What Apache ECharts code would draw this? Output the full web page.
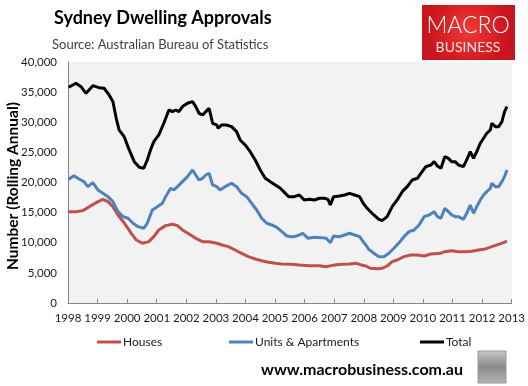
<!DOCTYPE html>
<html>
<head>
<meta charset="utf-8">
<script src="https://cdn.jsdelivr.net/npm/echarts@6/dist/echarts.min.js"></script>
<style>
html,body{margin:0;padding:0;background:#fff;}
#c{width:528px;height:386px;}
</style>
</head>
<body>
<div id="c"></div>
<script>
// Decimal-year positions and values (rolling annual approvals)
const totalX = [1998.02,1998.27,1998.44,1998.61,1998.84,1999.05,1999.22,1999.39,1999.52,1999.63,1999.73,1999.90,2000.07,2000.24,2000.41,2000.56,2000.68,2000.79,2000.90,2001.07,2001.24,2001.41,2001.53,2001.64,2001.75,2001.87,2002.04,2002.21,2002.32,2002.43,2002.55,2002.66,2002.77,2002.89,2003.03,2003.08,2003.19,2003.36,2003.53,2003.70,2003.82,2003.99,2004.16,2004.33,2004.50,2004.67,2004.84,2005.01,2005.18,2005.35,2005.46,2005.65,2005.82,2005.99,2006.16,2006.33,2006.50,2006.67,2006.79,2006.87,2006.98,2007.18,2007.35,2007.52,2007.69,2007.86,2007.98,2008.07,2008.17,2008.34,2008.51,2008.62,2008.79,2008.96,2009.13,2009.30,2009.47,2009.64,2009.81,2009.93,2010.10,2010.27,2010.38,2010.49,2010.61,2010.74,2010.86,2010.97,2011.09,2011.20,2011.37,2011.48,2011.60,2011.71,2011.82,2011.94,2012.05,2012.16,2012.28,2012.33,2012.45,2012.56,2012.67,2012.76,2012.84];
const totalY = [35800,36470,35900,34800,36070,35740,35640,34530,33400,30660,28700,27600,25400,23460,22530,22360,23740,25400,26780,27890,29830,32040,31760,32040,31760,32600,33150,33420,32600,31490,31210,31760,32320,29830,29550,29000,29550,29550,29270,28440,27060,26230,25120,23740,22080,20700,20140,19590,19040,18200,17650,17650,17930,17100,17210,17100,17380,17380,17200,16270,17650,17760,17930,18200,17930,17650,16550,15990,15440,14610,13890,13670,14330,15990,17100,18480,19310,20420,20700,21530,22630,22910,23460,22740,22360,24290,24010,23460,23460,22910,22630,23740,25120,24010,25120,26510,27340,28170,28720,29830,29270,29270,30100,31760,32600];

const unitsX = [1998.02,1998.20,1998.37,1998.54,1998.67,1998.84,1999.01,1999.18,1999.35,1999.52,1999.69,1999.86,2000.03,2000.20,2000.37,2000.56,2000.68,2000.85,2001.02,2001.19,2001.30,2001.47,2001.58,2001.70,2001.87,2002.04,2002.21,2002.32,2002.43,2002.55,2002.66,2002.77,2002.89,2003.03,2003.14,2003.31,2003.53,2003.70,2003.87,2004.04,2004.21,2004.38,2004.55,2004.72,2004.89,2005.06,2005.23,2005.40,2005.55,2005.65,2005.82,2005.94,2006.11,2006.33,2006.56,2006.73,2006.87,2006.98,2007.18,2007.35,2007.52,2007.69,2007.86,2007.98,2008.07,2008.17,2008.34,2008.51,2008.68,2008.85,2009.02,2009.19,2009.36,2009.53,2009.70,2009.87,2010.04,2010.21,2010.38,2010.49,2010.61,2010.74,2010.86,2010.97,2011.09,2011.20,2011.37,2011.48,2011.60,2011.71,2011.82,2011.94,2012.05,2012.16,2012.28,2012.33,2012.45,2012.56,2012.67,2012.76,2012.84];
const unitsY = [20530,21130,20580,20140,19310,19970,18760,18200,17650,16820,15160,14330,14060,13230,12670,12400,13230,15440,15990,16550,17650,19040,18760,19310,20140,20970,22080,21250,20420,20700,21250,21530,19590,19310,18760,19310,19870,19310,18200,17650,16550,15440,14060,13230,12950,12570,11840,11120,11010,11010,11290,11570,10740,10900,10850,10740,10010,11120,11010,11290,11570,11290,11010,10180,9630,8910,8250,7690,7690,8250,9080,10010,11010,11840,12120,12950,14330,14610,15160,14330,14060,15720,15160,14610,14330,14330,13890,14890,16270,14890,15990,17100,17930,18480,19040,19870,19310,19310,20140,20970,22080];

const housesX = [1998.02,1998.27,1998.50,1998.72,1998.95,1999.18,1999.35,1999.52,1999.69,1999.91,2000.14,2000.31,2000.52,2000.56,2000.73,2000.90,2001.07,2001.30,2001.53,2001.70,2001.87,2002.09,2002.32,2002.55,2002.77,2003.03,2003.21,2003.42,2003.65,2003.87,2004.10,2004.33,2004.55,2004.78,2005.01,2005.23,2005.55,2005.82,2006.16,2006.50,2006.73,2006.90,2007.07,2007.30,2007.52,2007.75,2007.92,2008.07,2008.23,2008.45,2008.62,2008.79,2008.96,2009.13,2009.36,2009.59,2009.81,2010.04,2010.27,2010.59,2010.74,2010.97,2011.20,2011.43,2011.65,2011.88,2012.11,2012.33,2012.56,2012.73,2012.84];
const housesY = [15160,15160,15330,15990,16650,17210,16820,15990,14610,13230,11570,10460,9910,9800,10180,11010,12120,12840,13060,12840,12120,11450,10740,10180,10180,9910,9630,9350,8800,8250,7690,7300,7020,6750,6580,6470,6420,6310,6200,6200,6030,6200,6360,6420,6470,6580,6310,6140,5760,5700,5760,6140,6860,7140,7690,7970,7970,7800,8130,8250,8520,8690,8520,8520,8600,8800,8970,9350,9740,10010,10290];

const yearTicks = [1998,2013];
const legendNames = ['Houses','Units & Apartments','Total'];

const pair = (xs, ys) => xs.map((x, i) => [x, ys[i]]);
const FONT = 'Lato';

const chart = echarts.init(document.getElementById('c'), null, {renderer: 'canvas'});
chart.setOption({
  animation: false,
  backgroundColor: '#ffffff',
  textStyle: {fontFamily: FONT},
  grid: {left: 68, right: 16, top: 62, bottom: 83, show: true, backgroundColor: '#f2f2f2', borderWidth: 0},
  xAxis: {
    type: 'value', min: yearTicks[0], max: yearTicks[1], interval: 1,
    axisLine: {lineStyle: {color: '#868686', width: 1}},
    axisTick: {inside: true, length: 4, lineStyle: {color: '#868686'}},
    splitLine: {show: false},
    axisLabel: {color: '#1a1a1a', fontSize: 11.5, fontFamily: FONT, margin: 9, formatter: v => String(v)}
  },
  yAxis: {
    type: 'value', min: 0, max: 40000, interval: 5000,
    axisLine: {show: true, lineStyle: {color: '#868686', width: 1}},
    axisTick: {show: false},
    splitLine: {show: false},
    axisLabel: {color: '#1a1a1a', fontSize: 11.5, fontFamily: FONT, margin: 11,
      formatter: v => v.toLocaleString('en-US')}
  },
  legend: [
    {data: [legendNames[0]], left: 97, top: 336, padding: 0, itemWidth: 24, itemHeight: 3, icon: 'rect', itemGap: 2, textStyle: {fontSize: 12, color: '#1a1a1a', fontFamily: FONT, padding: [0,0,0,-3]}},
    {data: [legendNames[1]], left: 229, top: 336, padding: 0, itemWidth: 24, itemHeight: 3, icon: 'rect', itemGap: 2, textStyle: {fontSize: 12, color: '#1a1a1a', fontFamily: FONT, padding: [0,0,0,-3]}},
    {data: [legendNames[2]], left: 420, top: 336, padding: 0, itemWidth: 24, itemHeight: 3, icon: 'rect', itemGap: 2, textStyle: {fontSize: 12, color: '#1a1a1a', fontFamily: FONT, padding: [0,0,0,-3]}}
  ],
  series: [
    {name: legendNames[0], type: 'line', data: pair(housesX, housesY), showSymbol: false, symbol: 'none', lineStyle: {color: '#c0504d', width: 3}, itemStyle: {color: '#c0504d'}},
    {name: legendNames[1], type: 'line', data: pair(unitsX, unitsY), showSymbol: false, symbol: 'none', lineStyle: {color: '#4f81bd', width: 3}, itemStyle: {color: '#4f81bd'}},
    {name: legendNames[2], type: 'line', data: pair(totalX, totalY), showSymbol: false, symbol: 'none', lineStyle: {color: '#000000', width: 3}, itemStyle: {color: '#000000'}}
  ],
  graphic: [
    {type: 'text', left: 54, top: 9, style: {text: 'Sydney Dwelling Approvals', font: 'bold 18px ' + FONT, fill: '#000'}},
    {type: 'text', left: 52, top: 38, style: {text: 'Source: Australian Bureau of Statistics', font: '13px ' + FONT, fill: '#404040'}},
    {type: 'text', x: 13, y: 186, rotation: Math.PI / 2, style: {text: 'Number (Rolling Annual)', font: 'bold 15.5px ' + FONT, fill: '#000', align: 'center', verticalAlign: 'middle'}},
    {type: 'rect', shape: {x: 422, y: 5, width: 93, height: 55},
      style: {fill: new echarts.graphic.RadialGradient(0.5, 0.45, 0.75, [{offset: 0, color: '#f03a36'}, {offset: 1, color: '#c8141c'}])}},
    {type: 'text', x: 468, y: 26, style: {text: 'MACRO', font: '300 23px ' + FONT, fill: '#ffffff', align: 'center', verticalAlign: 'middle'}},
    {type: 'text', x: 468, y: 47, style: {text: 'BUSINESS', font: '14px ' + FONT, fill: '#ffe0e0', align: 'center', verticalAlign: 'middle'}},
    {type: 'text', x: 362, y: 370, style: {text: 'www.macrobusiness.com.au', font: 'bold 16px ' + FONT, fill: '#000', align: 'center', verticalAlign: 'middle'}},
    {type: 'rect', shape: {x: 478, y: 351, width: 28, height: 32},
      style: {fill: new echarts.graphic.LinearGradient(0, 0, 0, 1, [{offset: 0, color: '#c9c9c9'}, {offset: 0.5, color: '#8a8a8a'}, {offset: 1, color: '#b5b5b5'}]), stroke: '#9a9a9a', lineWidth: 1}}
  ]
});
</script>
</body>
</html>
